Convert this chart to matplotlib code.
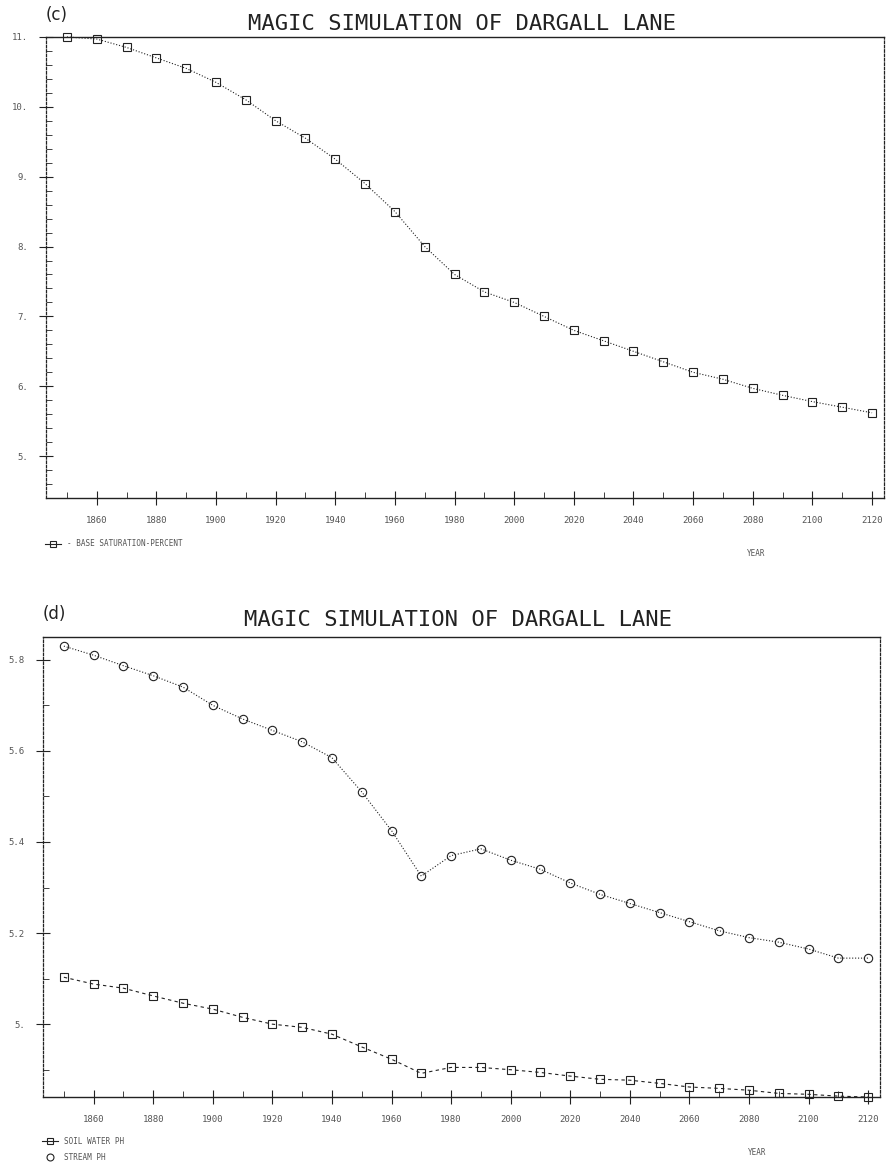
import numpy as np
import matplotlib
matplotlib.use('Agg')
import matplotlib.pyplot as plt
from matplotlib.lines import Line2D
from matplotlib.ticker import MultipleLocator, FixedLocator

# Simulation years (markers every 10 years)
years = list(range(1850, 2121, 10))

# Panel (c): base saturation, percent
base_sat = [11.0, 10.97, 10.85, 10.7, 10.55, 10.35, 10.1, 9.8, 9.55, 9.25,
            8.9, 8.5, 8.0, 7.6, 7.35, 7.2, 7.0, 6.8, 6.65, 6.5,
            6.35, 6.2, 6.1, 5.97, 5.87, 5.78, 5.7, 5.62]

# Panel (d): stream pH and soil water pH
stream_ph = [5.83, 5.81, 5.787, 5.765, 5.74, 5.70, 5.67, 5.645, 5.62, 5.585,
             5.51, 5.425, 5.325, 5.37, 5.385, 5.36, 5.34, 5.31, 5.285, 5.265,
             5.245, 5.225, 5.205, 5.19, 5.18, 5.165, 5.145, 5.145]
soil_ph = [5.103, 5.088, 5.079, 5.062, 5.046, 5.033, 5.015, 5.0, 4.993, 4.978,
           4.95, 4.923, 4.892, 4.905, 4.905, 4.90, 4.894, 4.886, 4.879, 4.877,
           4.870, 4.862, 4.859, 4.855, 4.848, 4.846, 4.842, 4.84]

x_ticks = list(range(1860, 2121, 20))
top_yticks = [5, 6, 7, 8, 9, 10, 11]
top_ylabels = ['5.', '6.', '7.', '8.', '9.', '10.', '11.']
bot_yticks = [5.0, 5.2, 5.4, 5.6, 5.8]
bot_ylabels = ['5.', '5.2', '5.4', '5.6', '5.8']

title = 'MAGIC SIMULATION OF DARGALL LANE'
mono = 'DejaVu Sans Mono'
ink = '#222222'
faint = '#555555'

fig = plt.figure(figsize=(8.87, 11.62), dpi=100)
ax1 = fig.add_axes([0.0519, 0.5714, 0.9447, 0.3968])
ax2 = fig.add_axes([0.0485, 0.0559, 0.9436, 0.3959])


def style_axes(ax, yticks, ylabels, yminor):
    ax.set_xlim(1843, 2124)
    ax.xaxis.set_major_locator(FixedLocator(x_ticks))
    ax.set_xticklabels([str(t) for t in x_ticks])
    ax.xaxis.set_minor_locator(MultipleLocator(10))
    ax.yaxis.set_major_locator(FixedLocator(yticks))
    ax.set_yticklabels(ylabels)
    ax.yaxis.set_minor_locator(MultipleLocator(yminor))
    ax.tick_params(which='major', direction='inout', length=10, width=0.8,
                   color=ink, labelsize=6.5, labelcolor=faint, pad=8)
    ax.tick_params(which='minor', direction='in', length=4, width=0.6, color=ink)
    for t in ax.get_xticklabels() + ax.get_yticklabels():
        t.set_family(mono)
    for side in ['top', 'bottom']:
        ax.spines[side].set_linewidth(1.0)
        ax.spines[side].set_color(ink)
    for side in ['left', 'right']:
        ax.spines[side].set_linewidth(0.9)
        ax.spines[side].set_color(ink)
        ax.spines[side].set_linestyle((0, (2, 1.5)))


# Panel (c)
ax1.plot(years, base_sat, color=ink, lw=0.8, ls=':', marker='s', ms=6,
         mfc='none', mec=ink, mew=0.8, clip_on=False)
ax1.set_ylim(4.4, 11.0)
style_axes(ax1, top_yticks, top_ylabels, 0.2)
ax1.text(0.496, 1.016, title, transform=ax1.transAxes, ha='center',
         va='baseline', family=mono, fontsize=16, color=ink)
ax1.text(0.0, 1.028, '(c)', transform=ax1.transAxes, ha='left', va='bottom',
         fontsize=12, color=ink)
h1 = [Line2D([], [], color=ink, lw=0.8, marker='s', ms=5, mfc='none', mew=0.8)]
ax1.legend(h1, ['- BASE SATURATION-PERCENT'], loc='upper left',
           bbox_to_anchor=(-0.01, -0.075), frameon=False, handlelength=2.2,
           prop={'family': mono, 'size': 5.5}, labelcolor=faint)
ax1.text(0.848, -0.11, 'YEAR', transform=ax1.transAxes, ha='center', va='top',
         family=mono, fontsize=5.5, color=faint)

# Panel (d)
ax2.plot(years, stream_ph, color=ink, lw=0.8, ls=':', marker='o', ms=6,
         mfc='none', mec=ink, mew=0.8, clip_on=False)
ax2.plot(years, soil_ph, color=ink, lw=0.8, ls=(0, (3, 3)), marker='s', ms=6,
         mfc='none', mec=ink, mew=0.8, clip_on=False)
ax2.set_ylim(4.84, 5.85)
style_axes(ax2, bot_yticks, bot_ylabels, 0.1)
ax2.text(0.496, 1.024, title, transform=ax2.transAxes, ha='center',
         va='baseline', family=mono, fontsize=16, color=ink)
ax2.text(0.0, 1.03, '(d)', transform=ax2.transAxes, ha='left', va='bottom',
         fontsize=12, color=ink)
h2 = [Line2D([], [], color=ink, lw=0.8, marker='s', ms=5, mfc='none', mew=0.8),
      Line2D([], [], color=ink, lw=0, marker='o', ms=5, mfc='none', mew=0.8)]
ax2.legend(h2, ['SOIL WATER PH', 'STREAM PH'], loc='upper left',
           bbox_to_anchor=(-0.01, -0.072), frameon=False, handlelength=2.2,
           labelspacing=0.9, prop={'family': mono, 'size': 5.5},
           labelcolor=faint)
ax2.text(0.853, -0.11, 'YEAR', transform=ax2.transAxes, ha='center', va='top',
         family=mono, fontsize=5.5, color=faint)

fig.savefig('out.png', dpi=100)
